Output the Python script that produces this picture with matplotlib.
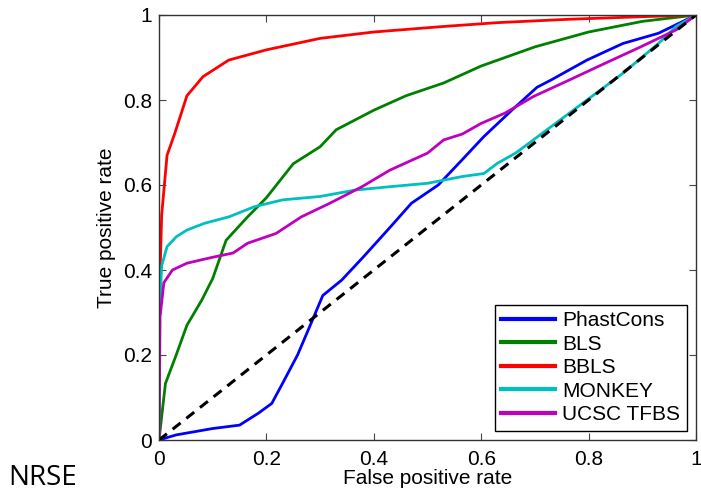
import numpy as np
import matplotlib.pyplot as plt

# ROC curves
phast_x = [0, 0.032, 0.1, 0.15, 0.185, 0.21, 0.23, 0.258, 0.285, 0.305, 0.34, 0.38, 0.43, 0.47, 0.52, 0.565, 0.605, 0.657, 0.704, 0.73, 0.797, 0.864, 0.93, 1.0]
phast_y = [0, 0.012, 0.027, 0.035, 0.063, 0.086, 0.133, 0.2, 0.28, 0.34, 0.376, 0.43, 0.5, 0.557, 0.6, 0.66, 0.714, 0.776, 0.83, 0.847, 0.894, 0.933, 0.957, 1.0]

bls_x = [0, 0.012, 0.032, 0.052, 0.08, 0.1, 0.125, 0.165, 0.2, 0.25, 0.3, 0.33, 0.4, 0.46, 0.53, 0.6, 0.7, 0.8, 0.9, 1.0]
bls_y = [0, 0.133, 0.2, 0.27, 0.33, 0.38, 0.47, 0.525, 0.57, 0.65, 0.69, 0.73, 0.776, 0.81, 0.84, 0.88, 0.925, 0.96, 0.985, 1.0]

bbls_x = [0, 0.001, 0.005, 0.015, 0.029, 0.052, 0.082, 0.13, 0.2, 0.3, 0.4, 0.53, 0.63, 0.764, 0.9, 1.0]
bbls_y = [0, 0.35, 0.53, 0.67, 0.72, 0.81, 0.855, 0.894, 0.918, 0.945, 0.96, 0.973, 0.982, 0.99, 0.996, 1.0]

monkey_x = [0, 0.001, 0.005, 0.015, 0.032, 0.052, 0.085, 0.13, 0.178, 0.23, 0.3, 0.365, 0.43, 0.5, 0.565, 0.605, 0.63, 0.664, 0.697, 0.73, 0.797, 0.864, 0.93, 0.963, 1.0]
monkey_y = [0, 0.3, 0.41, 0.455, 0.478, 0.494, 0.51, 0.525, 0.549, 0.565, 0.573, 0.588, 0.596, 0.604, 0.62, 0.627, 0.651, 0.675, 0.706, 0.737, 0.8, 0.863, 0.933, 0.973, 1.0]

ucsc_x = [0, 0.002, 0.009, 0.025, 0.052, 0.1, 0.138, 0.165, 0.218, 0.265, 0.318, 0.378, 0.43, 0.5, 0.53, 0.565, 0.6, 0.644, 0.697, 0.764, 0.83, 0.897, 0.963, 1.0]
ucsc_y = [0, 0.29, 0.37, 0.4, 0.416, 0.43, 0.44, 0.463, 0.486, 0.525, 0.557, 0.596, 0.635, 0.675, 0.706, 0.72, 0.745, 0.769, 0.808, 0.847, 0.886, 0.925, 0.965, 1.0]

ticks = [0, 0.2, 0.4, 0.6, 0.8, 1]
tick_labels = ['0', '0.2', '0.4', '0.6', '0.8', '1']

plt.rcParams['font.family'] = ['Liberation Sans', 'DejaVu Sans']

fig = plt.figure(figsize=(7.01, 4.93), dpi=100)
ax1 = fig.add_axes([159/701, 1 - 440/493, (696-159)/701, (440-15)/493])

ax1.plot(phast_x, phast_y, color=(0, 0, 1), linewidth=2, label='PhastCons')
ax1.plot(bls_x, bls_y, color=(0, 0.5, 0), linewidth=2, label='BLS')
ax1.plot(bbls_x, bbls_y, color=(1, 0, 0), linewidth=2, label='BBLS')
ax1.plot(monkey_x, monkey_y, color=(0, 0.75, 0.75), linewidth=2, label='MONKEY')
ax1.plot(ucsc_x, ucsc_y, color=(0.75, 0, 0.75), linewidth=2, label='UCSC TFBS')
ax1.plot([0, 1], [0, 1], color='k', linestyle=(0, (3.3, 2.4)), linewidth=2.2)

ax1.set_xlim([0, 1])
ax1.set_ylim([0, 1])
ax1.set_xticks(ticks)
ax1.set_yticks(ticks)
ax1.set_xticklabels(tick_labels)
ax1.set_yticklabels(tick_labels)
ax1.tick_params(axis='both', direction='in', top=True, right=True, length=5, width=0.8,
                labelsize=15, color='#444444')
ax1.tick_params(axis='x', pad=7)
ax1.tick_params(axis='y', pad=5)
for s in ax1.spines.values():
    s.set_linewidth(1)
    s.set_color('#333333')

ax1.set_xlabel('False positive rate', size=15, labelpad=0)
ax1.set_ylabel('True positive rate', size=15, labelpad=5)

leg = ax1.legend(loc='lower right', prop={'size': 15}, fancybox=False, edgecolor='k',
                 framealpha=1, handlelength=2.6, handletextpad=0.35, borderpad=0.3,
                 labelspacing=0.22, borderaxespad=0.45)
leg.get_frame().set_linewidth(1)
for line in leg.get_lines():
    line.set_linewidth(3)

fig.text(8/701, 1 - 478/493, 'NRSE', fontsize=20, family='Open Sans', va='center', ha='left')

plt.savefig('out.png', dpi=100)
